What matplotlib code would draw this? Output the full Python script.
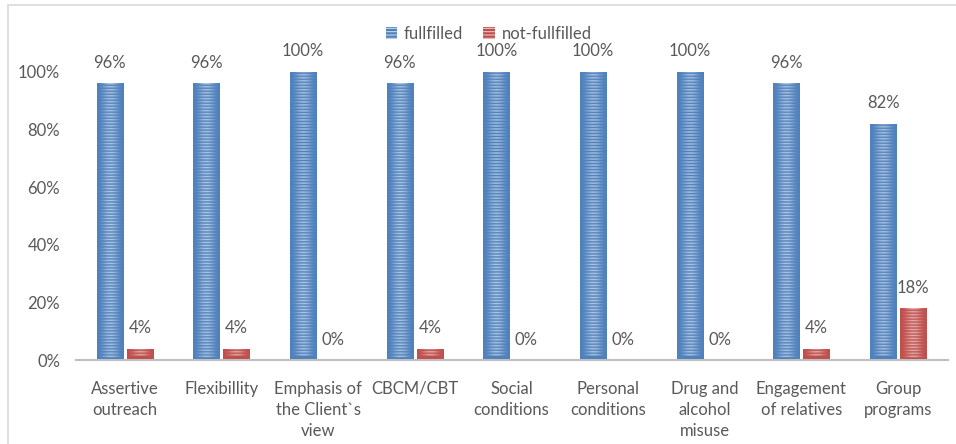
import matplotlib
matplotlib.use('Agg')
import matplotlib.pyplot as plt
from matplotlib.patches import Patch, Rectangle
from matplotlib.colors import to_rgb
import numpy as np

categories = ['Assertive\noutreach', 'Flexibillity', 'Emphasis of\nthe Client`s\nview',
              'CBCM/CBT', 'Social\nconditions', 'Personal\nconditions',
              'Drug and\nalcohol\nmisuse', 'Engagement\nof relatives', 'Group\nprograms']
fulfilled = [96, 96, 100, 96, 100, 100, 100, 96, 82]
not_fulfilled = [4, 4, 0, 4, 0, 0, 0, 4, 18]
series_names = ['fullfilled', 'not-fullfilled']

BLUE = '#4F81BD'
RED = '#C0504D'
TXT = '#595959'

plt.rcParams['font.family'] = ['Lato', 'DejaVu Sans']
plt.rcParams['hatch.linewidth'] = 0.8

fig = plt.figure(figsize=(9.56, 4.44), dpi=100)
ax = fig.add_axes([0.079, 0.189, 0.913, 0.649])

# outer chart frame
fig.patches.append(Rectangle((8 / 956, -0.05), 1.2, 1 - 5 / 444 + 0.05,
                             transform=fig.transFigure, fill=False,
                             edgecolor='#D9D9D9', linewidth=1.2))

x = np.arange(len(categories))
w = 0.27
off = 0.155


def striped(bars, color):
    # horizontal line pattern, lighter towards the middle of each bar
    base = np.array(to_rgb(color))
    for b in bars:
        h = b.get_height()
        if h <= 0:
            continue
        nrows = max(2, int(round(h / 0.0104 * 2)))
        rows = (np.arange(nrows) % 2 == 0).astype(float)
        rows[-2:] = 0
        cols = np.cos(np.linspace(-1, 1, 24) * np.pi / 2) ** 2
        wgt = 0.55 * rows[:, None] * cols[None, :]
        img = base[None, None, :] * (1 - wgt[..., None]) + wgt[..., None]
        im = ax.imshow(img, extent=[b.get_x(), b.get_x() + b.get_width(), 0, h],
                       aspect='auto', interpolation='bilinear', zorder=3)
        im.set_clip_path(b)


vals1 = np.array(fulfilled) / 100
vals2 = np.array(not_fulfilled) / 100
b1 = ax.bar(x - off, vals1, w, color=BLUE, zorder=2)
b2 = ax.bar(x + off, vals2, w, color=RED, zorder=2)
striped(b1, BLUE)
striped(b2, RED)

for bars, vals in ((b1, fulfilled), (b2, not_fulfilled)):
    for b, v in zip(bars, vals):
        ax.annotate(f'{v}%', (b.get_x() + b.get_width() / 2, b.get_height()),
                    xytext=(0, 9), textcoords='offset points',
                    ha='center', va='bottom', fontsize=12, color=TXT)

ax.set_xlim(-0.51, 8.52)
ax.set_ylim(0, 1.0)
ax.set_yticks(np.arange(0, 1.01, 0.2))
ax.set_yticklabels([f'{int(round(t * 100))}%' for t in np.arange(0, 1.01, 0.2)])
ax.set_xticks(x)
ax.set_xticklabels(categories, linespacing=1.4)
ax.tick_params(axis='x', length=0, pad=15, labelsize=12, labelcolor=TXT)
ax.tick_params(axis='y', length=0, pad=11, labelsize=12, labelcolor=TXT)
for s in ('top', 'right', 'left'):
    ax.spines[s].set_visible(False)
ax.spines['bottom'].set_color('#BFBFBF')
ax.spines['bottom'].set_linewidth(1.5)
ax.spines['bottom'].set_zorder(4)

handles = [Patch(facecolor=BLUE, edgecolor='#C9D7EA', hatch='-----', linewidth=0),
           Patch(facecolor=RED, edgecolor='#E8C4C3', hatch='-----', linewidth=0)]
fig.legend(handles, series_names, loc='center', bbox_to_anchor=(0.511, 0.924),
           ncol=2, frameon=False, fontsize=12, labelcolor=TXT,
           handlelength=0.7, handleheight=0.75, handletextpad=0.4, columnspacing=1.2)

fig.savefig('out.png', dpi=100)
